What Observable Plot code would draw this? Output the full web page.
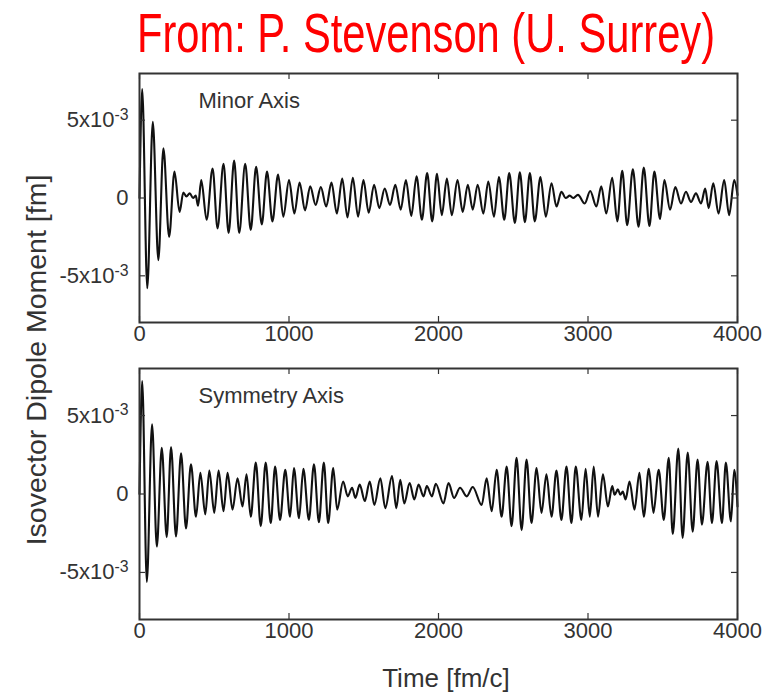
<!DOCTYPE html>
<html><head><meta charset="utf-8">
<script src="https://cdn.jsdelivr.net/npm/d3@7"></script>
<script src="https://cdn.jsdelivr.net/npm/@observablehq/plot@0.6"></script>
<style>
html,body{margin:0;padding:0;background:#fff;}
#fig{position:relative;width:782px;height:694px;overflow:hidden;font-family:"Liberation Sans",Arial,sans-serif;color:#333;background:#fff;}
#fig svg{position:absolute;left:0;overflow:visible;}
#title{position:absolute;top:5px;left:137px;font-family:"Liberation Sans Narrow","Liberation Sans",Arial,sans-serif;font-size:56px;line-height:56px;color:#f00;white-space:nowrap;transform-origin:0 0;}
#ylabel{position:absolute;left:36px;top:360px;font-size:28.5px;line-height:28px;white-space:nowrap;transform:translate(-50%,-50%) rotate(-90deg);}
#xlabel{position:absolute;left:446px;top:664px;font-size:26px;line-height:28px;white-space:nowrap;transform:translateX(-50%);}
</style></head>
<body><div id="fig">
<div id="title">From: P. Stevenson (U. Surrey)</div>
<div id="ylabel">Isovector Dipole Moment [fm]</div>
<div id="xlabel">Time [fm/c]</div>
</div>
<script>
// Tick values and labels (y in units of 10^-3 fm)
const xTicks = [0, 1000, 2000, 3000, 4000];
const xTickLabels = ["0", "1000", "2000", "3000", "4000"];
const yTicks = [-5, 0, 5];
const yTickLabels = ["-5x10^-3", "0", "5x10^-3"];
const panelLabels = ["Minor Axis", "Symmetry Axis"];

// Minor axis: extrema (time fm/c, value x10^-3 fm)
const minorT = [0,18,52,89,126,160,198,234,268,293,314,336,358,376,392,413,449,489,522,562,596,633,667,707,744,780,818,853,889,927,962,
1000,1036,1071,1107,1142,1178,1213,1249,1284,1320,1356,1391,1427,1462,1498,1533,1569,1604,1640,1676,1711,1747,1782,1818,1853,1889,1924,1958,
1990,2022,2056,2089,2127,2162,2196,2229,2262,2300,2333,2371,2404,2440,2473,2511,2544,2578,2611,2644,2682,2718,2756,2789,2822,2851,2878,2900,2933,2978,
3015,3056,3089,3122,3162,3196,3229,3262,3300,3338,3373,3411,3444,3482,3511,3549,3584,3622,3655,3689,3722,3756,3784,3807,3838,3873,3911,3944,3978,4000];
const minorV = [0,7.0,-5.8,4.9,-4.0,3.2,-2.5,1.7,-0.9,0.35,0.1,0.3,0.0,0.15,-0.5,1.15,-1.4,1.9,-1.95,2.2,-2.25,2.4,-2.25,2.2,-2.05,2.0,-1.7,1.7,-1.5,1.5,-1.2,
1.15,-1.0,1.0,-0.8,0.75,-0.45,0.7,-0.55,1.0,-1.0,1.25,-1.25,1.3,-1.2,1.15,-0.95,0.85,-0.65,0.6,-0.45,0.85,-0.75,1.15,-1.15,1.4,-1.4,1.6,-1.5,
1.55,-1.1,1.25,-1.1,1.15,-0.9,0.85,-0.75,0.85,-1.0,1.05,-1.2,1.35,-1.4,1.6,-1.6,1.65,-1.55,1.6,-1.5,1.35,-1.2,0.95,-0.55,0.4,0.0,0.15,0.0,0.2,-0.35,
0.45,-0.55,0.75,-1.0,1.3,-1.5,1.75,-1.75,1.85,-1.85,1.95,-1.8,1.7,-1.35,1.15,-0.75,0.7,-0.35,0.4,-0.25,0.3,-0.35,0.6,-0.65,0.95,-1.0,1.15,-1.1,1.15,0.2];

// Symmetry axis
const symT = [0,18,49,84,116,149,182,211,244,278,311,344,378,407,440,467,500,529,562,589,622,656,689,716,744,778,811,844,878,907,940,
975,1007,1033,1067,1096,1133,1167,1200,1233,1262,1296,1322,1362,1393,1422,1444,1473,1507,1540,1571,1611,1644,1689,1718,1744,1771,1807,1838,1867,1900,1922,1956,
1982,2033,2067,2104,2144,2189,2229,2289,2322,2356,2389,2422,2456,2489,2522,2556,2589,2622,2656,2689,2722,2756,2789,2822,2856,2889,2918,2956,
2984,3012,3038,3067,3100,3133,3162,3178,3200,3216,3233,3251,3278,3311,3344,3373,3407,3438,3473,3507,3540,3567,3604,3633,3667,3700,3733,3762,3800,3829,3860,3896,3922,3956,3978,4000];
const symV = [0,7.2,-5.6,4.45,-3.35,2.95,-2.75,3.0,-2.7,2.6,-2.2,1.9,-1.45,1.35,-1.3,1.5,-1.2,1.5,-1.1,1.35,-1.0,1.0,-0.8,1.25,-1.45,2.0,-2.05,2.0,-1.85,1.75,-1.65,
1.55,-1.45,1.65,-1.55,1.6,-1.65,1.9,-1.8,2.0,-1.85,1.65,-1.0,0.8,-0.15,0.4,-0.25,0.6,-0.45,0.8,-0.7,1.0,-0.9,1.15,-0.9,0.9,-0.6,0.7,-0.35,0.6,-0.15,0.5,-0.15,
0.65,-0.6,0.7,-0.25,0.4,-0.15,0.45,-0.7,1.0,-1.1,1.55,-1.45,1.75,-2.05,2.3,-2.3,2.2,-1.85,1.65,-1.2,1.25,-1.45,1.5,-1.65,1.75,-1.85,1.75,-1.65,
1.6,-1.45,1.75,-1.45,1.25,-0.8,0.5,-0.05,0.3,-0.05,0.15,-0.35,0.8,-1.0,1.35,-1.45,1.6,-1.2,1.55,-1.65,2.3,-2.55,2.9,-2.8,2.65,-2.4,2.2,-1.95,2.05,-1.85,2.1,-1.85,2.0,-1.75,1.55,-0.8];

const FONT = "'Liberation Sans', Arial, sans-serif";
const ML = 139, MR = 45;

function panel(times, values, label, top, height, mt, mb) {
  const data = times.map((t, i) => ({t, v: values[i]}));
  const fw = 782 - ML - MR, fh = height - mt - mb;
  const svg = Plot.plot({
    width: 782, height,
    marginLeft: ML, marginRight: MR, marginTop: mt, marginBottom: mb,
    style: {fontFamily: FONT, fontSize: "22px", color: "#333", background: "transparent", overflow: "visible"},
    x: {domain: [0, 4000], label: null},
    y: {domain: [-8, 8], label: null},
    marks: [
      Plot.line(data, {x: "t", y: "v", curve: "monotone-x", stroke: "#111", strokeWidth: 2.1}),
      Plot.tickX(xTicks, {x: d => d, insetTop: fh - 6, stroke: "#333", strokeWidth: 1.2}),
      Plot.tickX(xTicks, {x: d => d, insetBottom: fh - 6, stroke: "#333", strokeWidth: 1.2}),
      Plot.tickY(yTicks, {y: d => d, insetRight: fw - 6, stroke: "#333", strokeWidth: 1.2}),
      Plot.tickY(yTicks, {y: d => d, insetLeft: fw - 6, stroke: "#333", strokeWidth: 1.2}),
      Plot.axisX(xTicks, {tickSize: 0, tickPadding: 3, fontSize: 22, tickFormat: d => xTickLabels[xTicks.indexOf(d)]}),
      Plot.axisY(yTicks, {tickSize: 0, tickPadding: 11, fontSize: 22, tickFormat: d => yTickLabels[yTicks.indexOf(d)]}),
      Plot.frame({stroke: "#333", strokeWidth: 2}),
      Plot.text([label], {frameAnchor: "top-left", dx: 59, dy: 27, textAnchor: "start", lineAnchor: "middle", fontSize: 22, fill: "#333"})
    ]
  });
  svg.style.top = top + "px";
  // superscript exponents
  svg.querySelectorAll('[aria-label="y-axis tick label"] text').forEach(t => {
    const s = t.textContent;
    const k = s.indexOf("^");
    if (k >= 0) {
      t.textContent = s.slice(0, k);
      const ts = document.createElementNS("http://www.w3.org/2000/svg", "tspan");
      ts.setAttribute("dy", "-0.45em");
      ts.setAttribute("font-size", "0.72em");
      ts.textContent = s.slice(k + 1);
      t.appendChild(ts);
    }
  });
  document.getElementById("fig").appendChild(svg);
}

panel(minorT, minorV, panelLabels[0], 0, 362, 73, 40);
panel(symT, symV, panelLabels[1], 330, 330, 38, 41);

// fit title width
const title = document.getElementById("title");
const w = title.getBoundingClientRect().width;
title.style.transform = `scaleX(${578 / w})`;
</script>
</body></html>
